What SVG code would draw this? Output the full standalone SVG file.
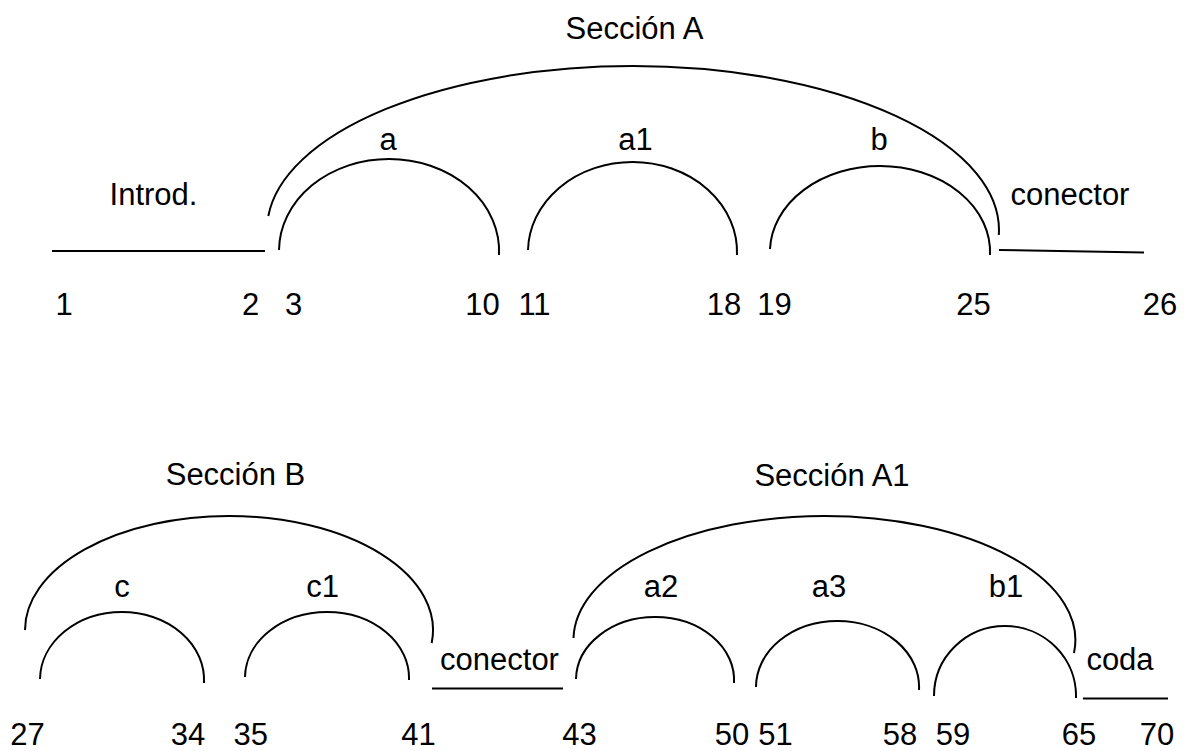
<svg xmlns="http://www.w3.org/2000/svg" width="1187" height="751" viewBox="0 0 1187 751">
<style>
text{font-family:"Liberation Sans",Arial,sans-serif;font-size:31px;fill:#000;text-anchor:middle}
.arc{fill:none;stroke:#000;stroke-width:2}
.seg{stroke:#000;stroke-width:2}
</style>
<rect width="1187" height="751" fill="#fff"/>
<g id="seccion-a">
<path class="arc" d="M268.3,216 A366,164 0 0 1 633,66 A366,164 0 0 1 998.8,235"/>
<text x="634.5" y="39">Sección A</text>
</g>
<g id="introd">
<line class="seg" x1="52" y1="251" x2="265" y2="251"/>
<text x="153.5" y="205">Introd.</text>
</g>
<g id="frase-a">
<path class="arc" d="M279,250 A110,92 0 0 1 389,159 A110,92 0 0 1 499,255"/>
<text x="388" y="150">a</text>
</g>
<g id="frase-a1">
<path class="arc" d="M528,250 A104.5,90 0 0 1 632.5,162 A104.5,90 0 0 1 737,255"/>
<text x="635.5" y="150">a1</text>
</g>
<g id="frase-b">
<path class="arc" d="M770,249 A110,86 0 0 1 880,166 A110,86 0 0 1 990,255"/>
<text x="879" y="150">b</text>
</g>
<g id="conector-1">
<line class="seg" x1="999" y1="250" x2="1144" y2="252.5"/>
<text x="1070" y="205">conector</text>
</g>
<g id="compases-1">
<text x="64" y="315">1</text>
<text x="250.5" y="315">2</text>
<text x="293.5" y="315">3</text>
<text x="482.5" y="315">10</text>
<text x="534.5" y="315">11</text>
<text x="724" y="315">18</text>
<text x="774.5" y="315">19</text>
<text x="973.5" y="315">25</text>
<text x="1160" y="315">26</text>
</g>
<g id="seccion-b">
<path class="arc" d="M25,630 A204,114 0 0 1 229,516 A204,114 0 0 1 431.7,643"/>
<text x="235.5" y="485">Sección B</text>
</g>
<g id="frase-c">
<path class="arc" d="M40,679 A82,68 0 0 1 122,612 A82,68 0 0 1 204,683"/>
<text x="122" y="597">c</text>
</g>
<g id="frase-c1">
<path class="arc" d="M245,677 A82,66 0 0 1 327,612 A82,66 0 0 1 409,680"/>
<text x="322.5" y="597">c1</text>
</g>
<g id="conector-2">
<line class="seg" x1="432" y1="688.5" x2="563" y2="688.5"/>
<text x="499.5" y="670">conector</text>
</g>
<g id="seccion-a1">
<path class="arc" d="M573.5,638 A251,124 0 0 1 824.5,516 A251,124 0 0 1 1074,653"/>
<text x="832" y="486">Sección A1</text>
</g>
<g id="frase-a2">
<path class="arc" d="M576,679 A79,63 0 0 1 655,617 A79,63 0 0 1 734,683"/>
<text x="661" y="597">a2</text>
</g>
<g id="frase-a3">
<path class="arc" d="M756,687 A81.5,66 0 0 1 837.5,621 A81.5,66 0 0 1 919,690"/>
<text x="829" y="597">a3</text>
</g>
<g id="frase-b1">
<path class="arc" d="M934,696 A71,70 0 0 1 1005,626 A71,70 0 0 1 1076,698"/>
<text x="1006" y="597">b1</text>
</g>
<g id="coda">
<line class="seg" x1="1083" y1="698.5" x2="1168" y2="698.5"/>
<text x="1120" y="670">coda</text>
</g>
<g id="compases-2">
<text x="27.5" y="745">27</text>
<text x="188" y="745">34</text>
<text x="250.7" y="745">35</text>
<text x="418.5" y="745">41</text>
<text x="579.5" y="745">43</text>
<text x="732" y="745">50</text>
<text x="775.5" y="745">51</text>
<text x="900" y="745">58</text>
<text x="953" y="745">59</text>
<text x="1079" y="745">65</text>
<text x="1157" y="745">70</text>
</g>
<g id="connectors"></g>
</svg>
